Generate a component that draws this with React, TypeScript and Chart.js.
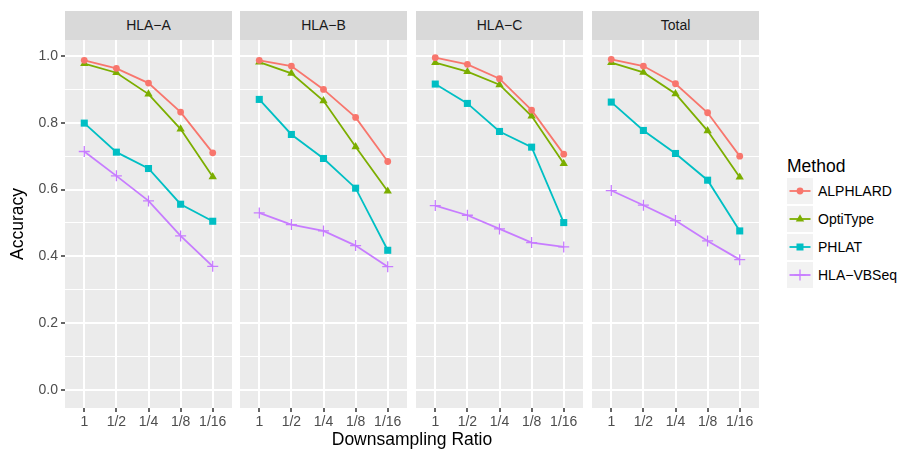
import React, { useEffect, useRef } from 'react';
import { Chart, registerables } from 'chart.js';
Chart.register(...registerables);

// ---- data ----
const ratioLabels = ['1', '1/2', '1/4', '1/8', '1/16'];
const panelNames = ['HLA\u2212A', 'HLA\u2212B', 'HLA\u2212C', 'Total'];
const methodNames = ['ALPHLARD', 'OptiType', 'PHLAT', 'HLA\u2212VBSeq'];
const yTicks = [0, 0.1, 0.2, 0.3, 0.4, 0.5, 0.6, 0.7, 0.8, 0.9, 1.0];

const alphlardA = [0.987, 0.963, 0.919, 0.832, 0.71];
const optitypeA = [0.977, 0.95, 0.886, 0.781, 0.638];
const phlatA = [0.799, 0.712, 0.663, 0.556, 0.505];
const vbseqA = [0.714, 0.641, 0.566, 0.461, 0.37];

const alphlardB = [0.987, 0.97, 0.9, 0.816, 0.684];
const optitypeB = [0.982, 0.948, 0.866, 0.728, 0.595];
const phlatB = [0.87, 0.765, 0.693, 0.604, 0.418];
const vbseqB = [0.53, 0.495, 0.476, 0.432, 0.369];

const alphlardC = [0.995, 0.975, 0.932, 0.838, 0.706];
const optitypeC = [0.98, 0.953, 0.914, 0.82, 0.678];
const phlatC = [0.916, 0.858, 0.774, 0.727, 0.501];
const vbseqC = [0.552, 0.523, 0.482, 0.441, 0.428];

const alphlardT = [0.99, 0.97, 0.917, 0.83, 0.7];
const optitypeT = [0.98, 0.951, 0.887, 0.776, 0.637];
const phlatT = [0.862, 0.777, 0.708, 0.628, 0.476];
const vbseqT = [0.597, 0.553, 0.507, 0.446, 0.39];

const panelData = [
  [alphlardA, optitypeA, phlatA, vbseqA],
  [alphlardB, optitypeB, phlatB, vbseqB],
  [alphlardC, optitypeC, phlatC, vbseqC],
  [alphlardT, optitypeT, phlatT, vbseqT],
];

// ---- styles ----
const colors = ['#F8766D', '#7CAE00', '#00BFC4', '#C77CFF'];
const pointStyles = ['circle', 'triangle', 'rect', 'cross'];
const pointRadii = [3.4, 4.8, 5, 5.5];
const FONT = '"Liberation Sans", Arial, Helvetica, sans-serif';
const panelLefts = [65, 240, 416, 592];
const PANEL_W = 167;
const CANVAS_TOP = 40;
const CANVAS_H = 409;
const YAXIS_W = 65;

const isMajor = (v: number) => Math.abs(Math.round(v * 10) % 2) === 0;

const bgPlugin = {
  id: 'panelBg',
  beforeDraw(chart: any) {
    const { ctx, chartArea } = chart;
    ctx.save();
    ctx.fillStyle = '#EBEBEB';
    ctx.fillRect(chartArea.left, chartArea.top, chartArea.right - chartArea.left, chartArea.bottom - chartArea.top);
    ctx.restore();
  },
};

function Panel({ index }: { index: number }) {
  const ref = useRef<HTMLCanvasElement | null>(null);
  const first = index === 0;
  const width = PANEL_W + (first ? YAXIS_W : 0);
  const left = panelLefts[index] - (first ? YAXIS_W : 0);

  useEffect(() => {
    if (!ref.current) return;
    const datasets = methodNames.map((m, mi) => ({
      label: m,
      data: panelData[index][mi].map((v, i) => ({ x: i, y: v })),
      borderColor: colors[mi],
      backgroundColor: colors[mi],
      borderWidth: 1.8,
      pointStyle: pointStyles[mi] as any,
      pointRadius: pointRadii[mi],
      pointBorderWidth: mi === 3 ? 1.3 : 0,
      pointBorderColor: colors[mi],
      pointBackgroundColor: colors[mi],
      tension: 0,
      clip: false as any,
    }));
    const chart = new Chart(ref.current, {
      type: 'line',
      data: { datasets },
      plugins: [bgPlugin],
      options: {
        responsive: false,
        animation: false,
        layout: { padding: 0, autoPadding: false } as any,
        plugins: { legend: { display: false }, tooltip: { enabled: false } },
        scales: {
          x: {
            type: 'linear',
            min: -0.6,
            max: 4.6,
            afterBuildTicks: (s: any) => {
              s.ticks = ratioLabels.map((_, i) => ({ value: i }));
            },
            afterFit: (s: any) => {
              s.height = 41;
              s.paddingLeft = 0;
              s.paddingRight = 0;
              s.paddingTop = 0;
              s.paddingBottom = 0;
            },
            ticks: {
              callback: (v: any) => ratioLabels[Math.round(Number(v))] ?? '',
              color: '#4D4D4D',
              font: { family: FONT, size: 14 },
              padding: 2,
              maxRotation: 0,
              autoSkip: false,
            },
            grid: {
              color: '#FFFFFF',
              lineWidth: 2,
              drawTicks: true,
              tickLength: 4,
              tickColor: '#333333',
              tickWidth: 1.5,
            },
            border: { display: false },
          },
          y: {
            type: 'linear',
            min: -0.0545,
            max: 1.048,
            afterBuildTicks: (s: any) => {
              s.ticks = yTicks.map((v) => ({ value: v }));
            },
            afterFit: (s: any) => {
              s.width = first ? YAXIS_W : 0;
              s.paddingLeft = 0;
              s.paddingRight = 0;
              s.paddingTop = 0;
              s.paddingBottom = 0;
            },
            ticks: {
              display: first,
              callback: (v: any) => (isMajor(Number(v)) ? Number(v).toFixed(1) : ''),
              color: '#4D4D4D',
              font: { family: FONT, size: 14 },
              padding: 3,
            },
            grid: {
              color: '#FFFFFF',
              lineWidth: (c: any) => (isMajor(c.tick.value) ? 2 : 1),
              drawTicks: first,
              tickLength: 4,
              tickColor: (c: any) => (isMajor(c.tick.value) ? '#333333' : 'rgba(0,0,0,0)'),
              tickWidth: 1.5,
            },
            border: { display: false },
            title: {
              display: first,
              text: 'Accuracy',
              color: '#000000',
              font: { family: FONT, size: 17.5 },
              padding: { top: 7.5, bottom: 0 },
            },
          },
        },
      } as any,
    });
    return () => chart.destroy();
  }, [index]);

  return (
    <>
      <div
        style={{
          position: 'absolute',
          left: panelLefts[index],
          top: 11,
          width: PANEL_W,
          height: 29,
          background: '#D9D9D9',
          color: '#1A1A1A',
          fontFamily: FONT,
          fontSize: 14,
          lineHeight: '29px',
          textAlign: 'center',
        }}
      >
        {panelNames[index]}
      </div>
      <canvas
        ref={ref}
        width={width}
        height={CANVAS_H}
        style={{ position: 'absolute', left, top: CANVAS_TOP, width, height: CANVAS_H }}
      />
    </>
  );
}

function LegendKey({ mi }: { mi: number }) {
  const c = colors[mi];
  let marker: React.ReactNode = null;
  if (mi === 0) marker = <circle cx={13} cy={13} r={3.4} fill={c} />;
  if (mi === 1) marker = <polygon points="13,8.2 17.2,15.4 8.8,15.4" fill={c} />;
  if (mi === 2) marker = <rect x={9.5} y={9.5} width={7} height={7} fill={c} />;
  if (mi === 3)
    marker = (
      <g stroke={c} strokeWidth={1.3}>
        <line x1={13} y1={7.5} x2={13} y2={18.5} />
        <line x1={7.5} y1={13} x2={18.5} y2={13} />
      </g>
    );
  return (
    <svg width={26} height={26} style={{ position: 'absolute', left: 0, top: 0 }}>
      <rect x={0} y={0} width={26} height={26} fill="#F2F2F2" />
      <line x1={2.5} y1={13} x2={23.5} y2={13} stroke={c} strokeWidth={1.8} />
      {marker}
    </svg>
  );
}

export default function App() {
  return (
    <div style={{ position: 'absolute', left: 0, top: 0, width: 902, height: 449, background: '#FFFFFF', overflow: 'hidden' }}>
      {panelNames.map((_, i) => (
        <Panel key={i} index={i} />
      ))}
      <div
        style={{
          position: 'absolute',
          left: 212,
          width: 400,
          top: 430,
          height: 18,
          lineHeight: '18px',
          textAlign: 'center',
          fontFamily: FONT,
          fontSize: 17.5,
          color: '#000000',
          whiteSpace: 'nowrap',
        }}
      >
        Downsampling Ratio
      </div>
      <div
        style={{
          position: 'absolute',
          left: 787,
          top: 157,
          lineHeight: '18px',
          fontFamily: FONT,
          fontSize: 17.5,
          color: '#000000',
        }}
      >
        Method
      </div>
      {methodNames.map((m, mi) => (
        <div key={m} style={{ position: 'absolute', left: 787, top: 177.5 + mi * 28, width: 110, height: 26 }}>
          <LegendKey mi={mi} />
          <div
            style={{
              position: 'absolute',
              left: 31,
              top: 0,
              lineHeight: '26px',
              fontFamily: FONT,
              fontSize: 14,
              color: '#000000',
              whiteSpace: 'nowrap',
            }}
          >
            {m}
          </div>
        </div>
      ))}
    </div>
  );
}
